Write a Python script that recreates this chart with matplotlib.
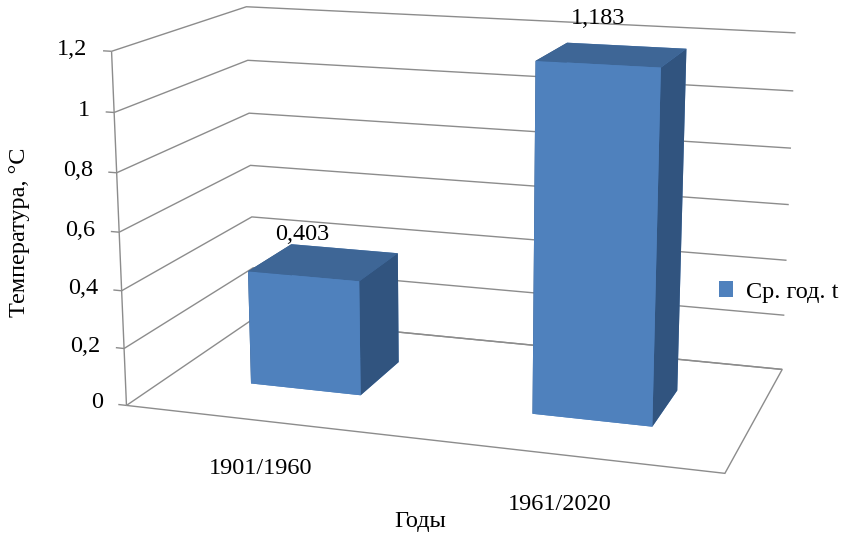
import numpy as np
import matplotlib
matplotlib.use('Agg')
import matplotlib.pyplot as plt
from matplotlib.patches import Patch
from mpl_toolkits.mplot3d import proj3d
from mpl_toolkits.mplot3d.art3d import Line3DCollection

plt.rcParams['font.family'] = ['Liberation Serif', 'DejaVu Serif']
plt.rcParams['grid.color'] = '#8c8c8c'
plt.rcParams['grid.linewidth'] = 1.0

periods = ['1901/1960', '1961/2020']
temps = [0.403, 1.183]
series_name = 'Ср. год. t'
z_ticks = [0, 0.2, 0.4, 0.6, 0.8, 1.0, 1.2]
z_labels = ['0', '0,2', '0,4', '0,6', '0,8', '1', '1,2']

front_c = '#4F81BD'
top_c = '#3E6696'
side_c = '#31547F'
edge_c = '#8c8c8c'
fs = 17.5

fig = plt.figure(figsize=(8.44, 5.39), dpi=100)
ax = fig.add_axes([0.04, 0.082, 1.0, 1.0], projection='3d')
ax.set_proj_type('persp', focal_length=0.7)
ax.view_init(elev=14, azim=-72)
ax.set_box_aspect((1.64, 0.86, 0.97), zoom=1.38)

xmin, xmax = -0.5, len(periods) - 0.5
ax.set_xlim(xmin, xmax)
ax.set_ylim(0, 1)
ax.set_zlim(0, 1.2)

# bars: faces are bottom, top, front, back, left, right
n = len(temps)
x = np.arange(n)
bw = 0.4
d0, d1 = 0.32, 0.68
face_colors = [front_c, top_c, front_c, front_c, side_c, side_c] * n
bars = ax.bar3d(x - bw / 2, np.full(n, d0), np.zeros(n), bw, d1 - d0, temps,
                color=face_colors, shade=False)
bars.set_clip_on(False)

# walls and floor
for a in (ax.xaxis, ax.yaxis, ax.zaxis):
    a.set_pane_color((1, 1, 1, 1))
    a.line.set_color((0, 0, 0, 0))
ax.xaxis.pane.set_edgecolor('none')
ax.yaxis.pane.set_edgecolor('none')
ax.zaxis.pane.set_edgecolor(edge_c)
ax.zaxis.pane.set_linewidth(1.0)

ax.set_xticks([])
ax.set_yticks([])
ax.set_zticks(z_ticks)
ax.set_zticklabels([])
ax.tick_params(axis='z', color=(0, 0, 0, 0))
ax.grid(True)

# value axis on the front-left edge
segs = [[(xmin, 0, 0), (xmin, 0, z_ticks[-1])]]
segs += [[(xmin - 0.03, 0, z), (xmin, 0, z)] for z in z_ticks]
axis_lines = Line3DCollection(segs, colors=edge_c, linewidths=1)
ax.add_collection3d(axis_lines)
axis_lines.set_clip_on(False)

# texts are placed in 2D at the projected 3D anchor points
fig.canvas.draw()


def label(x3, y3, z3, s, **kw):
    px, py, _ = proj3d.proj_transform(x3, y3, z3, ax.get_proj())
    ax.text2D(px, py, s, transform=ax.transData, fontsize=fs, **kw)


for z, lab in zip(z_ticks, z_labels):
    label(xmin - 0.085, 0, z, lab, ha='right', va='center')

for xi, t in zip(x, temps):
    label(xi, d0, t + 0.145, f'{t:.3f}'.replace('.', ','),
          ha='center', va='center')

for xi, p in zip(x, periods):
    label(xi, -0.05, -0.11, p, ha='center', va='top')

fig.text(20 / 844, 1 - 232 / 539, 'Температура, °С', rotation=90,
         ha='center', va='center', fontsize=fs)
fig.text(420 / 844, 1 - 522 / 539, 'Годы', ha='center', va='center', fontsize=fs)

fig.legend(handles=[Patch(facecolor=front_c, label=series_name)],
           loc='center left', bbox_to_anchor=(697 / 844, 1 - 292 / 539),
           frameon=False, handlelength=0.6, handleheight=0.6,
           handletextpad=0.5, fontsize=fs)

fig.savefig('out.png', dpi=100)
